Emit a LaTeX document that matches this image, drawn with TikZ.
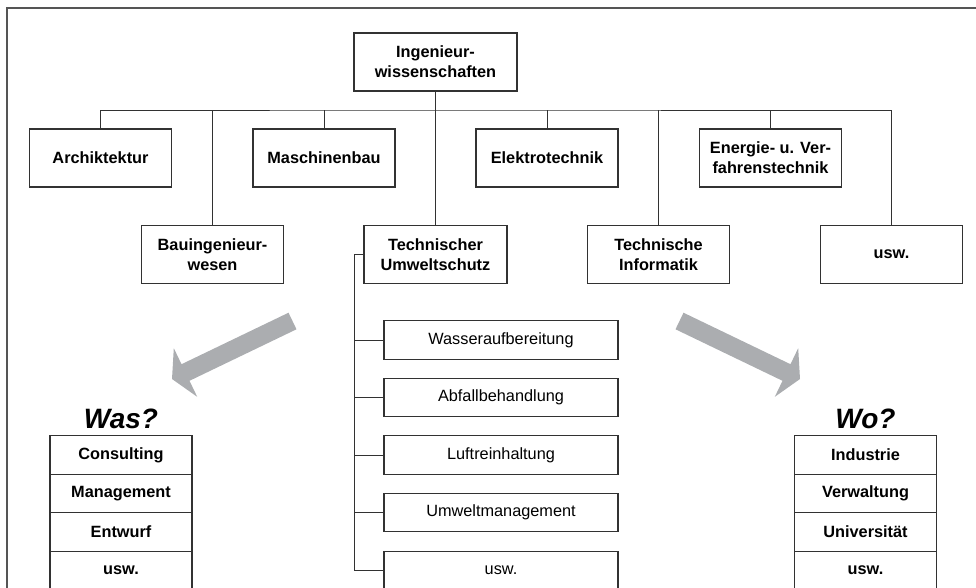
\documentclass[tikz,border=0pt]{standalone}
\usepackage{fontspec}
\setmainfont{Liberation Sans}
\usetikzlibrary{calc}
\definecolor{arrowgray}{RGB}{171,173,176}
\definecolor{linegray}{RGB}{50,50,50}
\definecolor{framegray}{RGB}{85,85,85}

% broad grey arrow from #1 (tail) to #2 (tip)
\newcommand\fatarrow[2]{%
  \coordinate (fa-base) at ($(#2)!15pt!(#1)$);
  \fill[arrowgray]
    ($(#1)!9.2pt!90:(#2)$) -- ($(fa-base)!9.2pt!90:(#2)$) --
    ($(fa-base)!27pt!90:(#2)$) -- (#2) --
    ($(fa-base)!27pt!-90:(#2)$) -- ($(fa-base)!9.2pt!-90:(#2)$) --
    ($(#1)!9.2pt!-90:(#2)$) -- cycle;}

\begin{document}
\begin{tikzpicture}[x=1pt,y=-1pt,
  every node/.style={font=\fontsize{16.3}{20}\selectfont\bfseries, text=black},
  box/.style={draw=linegray, line width=1.2pt, align=center,
    minimum width=142pt, minimum height=58pt, inner sep=2pt},
  subbox/.style={draw=linegray, line width=1.2pt, minimum width=234pt,
    minimum height=38.5pt, font=\fontsize{16.3}{20}\selectfont},
  cell/.style={draw=linegray, line width=1.2pt, minimum width=142pt,
    minimum height=38.5pt},
  link/.style={draw=linegray, line width=1pt},
  heading/.style={font=\fontsize{28}{30}\selectfont\bfseries\itshape, anchor=base},
]
\useasboundingbox (0,0) rectangle (976,587);
\clip (0,0) rectangle (976,587);

% frame
\draw[line width=2pt, draw=framegray] (7,590) -- (7,7.5) -- (980,7.5);

% root and disciplines
\node[box, minimum width=163pt] (ing) at (435.5,62) {Ingenieur-\\wissenschaften};
\node[box] (arch)  at (100.5,158) {Archiktektur};
\node[box] (bau)   at (212.5,254.5) {Bauingenieur-\\wesen};
\node[box] (masch) at (324,158) {Maschinenbau};
\node[box, minimum width=143pt] (tu) at (435.5,254.5) {Technischer\\Umweltschutz};
\node[box] (elek)  at (547,158) {Elektrotechnik};
\node[box] (ti)    at (658.5,254.5) {Technische\\Informatik};
\node[box] (ener)  at (770.5,158) {Energie- u. Ver-\\fahrenstechnik};
\node[box] (usw)   at (891.5,254.5) {usw.};

% tree connectors
\coordinate (bus) at (435.5,110);
\draw[link] (ing.south) -- (tu.north);
\draw[link] (arch.north) |- (bus) -| (usw.north);
\foreach \n in {bau,masch,elek,ti,ener}
  \draw[link] (\n.north) -- (\n.north |- bus);

% fields of environmental engineering
\node[subbox] (s1) at (501,340)   {Wasseraufbereitung};
\node[subbox] (s2) at (501,397.5) {Abfallbehandlung};
\node[subbox] (s3) at (501,455)   {Luftreinhaltung};
\node[subbox] (s4) at (501,512.5) {Umweltmanagement};
\node[subbox] (s5) at (501,570.5) {usw.};
\coordinate (spine) at (354,254.5);
\draw[link] (tu.west) -- (spine) |- (s5.west);
\foreach \n in {s1,s2,s3,s4}
  \draw[link] (\n.west) -- (\n.west -| spine);

% arrows
\coordinate (la-tail) at (292.5,321);
\coordinate (la-tip)  at (172,379);
\coordinate (ra-tail) at (679.5,321);
\coordinate (ra-tip)  at (800,379);
\fatarrow{la-tail}{la-tip}
\fatarrow{ra-tail}{ra-tip}

% what?
\node[heading] (was) at (121,428) {Was?};
\node[cell] (w1) at (121,455)   {Consulting};
\node[cell] (w2) at (121,493.5) {Management};
\node[cell] (w3) at (121,532)   {Entwurf};
\node[cell] (w4) at (121,570.5) {usw.};

% where?
\node[heading] (wo) at (865.5,428) {Wo?};
\node[cell] (o1) at (865.5,455)   {Industrie};
\node[cell] (o2) at (865.5,493.5) {Verwaltung};
\node[cell] (o3) at (865.5,532)   {Universität};
\node[cell] (o4) at (865.5,570.5) {usw.};
\end{tikzpicture}
\end{document}
